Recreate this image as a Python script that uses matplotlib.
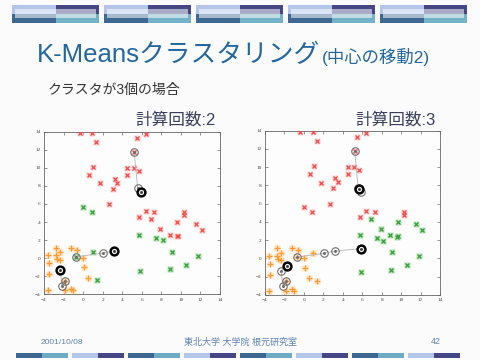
import matplotlib
matplotlib.use("Agg")
import matplotlib.pyplot as plt
from matplotlib.patches import Rectangle

# ---------------- data ----------------
pts_x = [-0.35, 0.9, 1.35, 5.5, 6.4, 5.22, 1.05, 0.58, 1.72, 4.5, 5.17, 4.5, 5.68,
         3.23, 3.46, 3.03, 2.68, -0.04, 0.88, 5.72, 6.42, 7.27, 6.95, 7.9, 8.85,
         9.6, 9.68, 9.65, 10.27, 10.27, 11.55, 12.13,
         5.75, 7.5, 8.13, 9.08, 11.8, 10.57, 8.93, 5.84, 0.97, 1.37, -0.7,
         -3.57, -3.52, -3.5, -3.6, -2.8, -2.8, -2.39, -2.63, -2.35, -1.19, -0.62,
         0.0, 0.13, 0.53, -1.24, -1.06, -1.88, -1.82]
pts_y = [13.88, 13.9, 12.9, 13.27, 13.7, 11.8, 10.1, 9.25, 8.3, 10.03, 10.03, 9.25, 9.65,
         8.8, 8.33, 7.68, 6.0, 5.64, 5.13, 4.55, 5.24, 5.07, 4.32, 3.24, 2.52,
         2.4, 2.5, 3.95, 5.08, 4.76, 3.77, 3.13,
         2.56, 2.21, 1.97, 0.67, 0.28, -0.73, -1.23, -1.43, 0.64, -2.47, 0.15,
         0.3, -0.55, -1.78, -3.55, 1.15, 0.3, 0.64, -0.05, -0.16, 1.1, 0.88,
         0.02, -1.0, -2.18, -3.38, -3.52, -3.52, -2.52]
# cluster labels: 0 = red x, 1 = green, 2 = orange +
labels_iter2 = [0]*17 + [1, 1] + [0]*13 + [1]*11 + [2]*18
labels_iter3 = [0]*22 + [1]*6 + [0, 0] + [1, 1] + [1]*8 + [2]*3 + [2]*18

c1_x = [5.22, 5.58, 5.9, 5.66]
c1_y = [11.8, 7.73, 7.3, 7.63]
c2_x = [-0.7, 2.05, 3.15, 5.86]
c2_y = [0.15, 0.56, 0.8, 1.09]
c3_x = [-1.82, -2.15, -2.35, -1.78]
c3_y = [-2.52, -3.05, -1.35, -0.8]

ticks = [-4, -2, 0, 2, 4, 6, 8, 10, 12, 14]
iterations = [2, 3]

# ---------------- figure ----------------
W, H = 480, 360
fig = plt.figure(figsize=(4.8, 3.6), dpi=100, facecolor="#fbfbfb")

bg = fig.add_axes([0, 0, 1, 1], zorder=-5)
bg.set_xlim(0, W)
bg.set_ylim(H, 0)
bg.axis("off")

# top decorative blocks
for x0 in [12, 104, 196, 288, 380]:
    w = 87
    bg.add_patch(Rectangle((x0, 5), w / 2, 9, color="#b3c6ea", lw=0))
    bg.add_patch(Rectangle((x0 + w / 2, 5), w / 2, 9, color="#454785", lw=0))
    bg.add_patch(Rectangle((x0, 14), w / 2, 9, color="#3e6891", lw=0))
    bg.add_patch(Rectangle((x0 + w / 2, 14), w / 2, 9, color="#74b2c7", lw=0))
    bg.add_patch(Rectangle((x0 + 3, 8.5), w - 6, 9, color="white", alpha=0.55, lw=0))

# bottom decorative bar
for i, x0 in enumerate([16, 72, 128, 184, 240, 296, 352, 408]):
    if i % 2 == 0:
        ca, cb = "#3e6891", "#6eaac2"
    else:
        ca, cb = "#b3c6ea", "#454785"
    bg.add_patch(Rectangle((x0, 353), 26, 5, color=ca, lw=0))
    bg.add_patch(Rectangle((x0 + 26, 353), 26, 5, color=cb, lw=0))

jp = ["Liberation Sans", "Noto Sans CJK JP"]
fig.text(37 / W, 1 - 62.5 / H, "K-Meansクラスタリング", family=jp, fontsize=18.5,
         color="#23679e", va="baseline", ha="left")
fig.text(322 / W, 1 - 62.5 / H, "(中心の移動2)", family=jp, fontsize=12.5,
         color="#23679e", va="baseline", ha="left")
fig.text(48 / W, 1 - 90 / H, "クラスタが3個の場合", family=jp, fontsize=10,
         color="#333333", va="center", ha="left")

fig.text(41 / W, 1 - 342 / H, "2001/10/08", family=jp, fontsize=6,
         color="#5f84b0", va="center", ha="left")
fig.text(241 / W, 1 - 342 / H, "東北大学 大学院 根元研究室", family=jp, fontsize=6.5,
         color="#5f84b0", va="center", ha="center")
fig.text(436 / W, 1 - 342 / H, "42", family=jp, fontsize=6.5,
         color="#5f84b0", va="center", ha="center")

axes_rects = [[44 / W, 1 - 294.3 / H, 176 / W, 162.6 / H],
              [265 / W, 1 - 295 / H, 175 / W, 164.3 / H]]
title_right = [216, 436]

styles = {
    0: dict(marker="x", color="#f24a4a", halo="#ffd4d4", ms=3.4),
    1: dict(marker="x", color="#3a9e3a", halo="#b9e3b9", ms=2.6),
    2: dict(marker="+", color="#ff9a30", halo="#ffe2c0", ms=4.2),
}

for k, it in enumerate(iterations):
    ax = fig.add_axes(axes_rects[k], facecolor="#fdfdfd")
    labs = labels_iter2 if it == 2 else labels_iter3
    for c in [0, 1, 2]:
        xs = [x for x, l in zip(pts_x, labs) if l == c]
        ys = [y for y, l in zip(pts_y, labs) if l == c]
        st = styles[c]
        ax.plot(xs, ys, ls="none", marker="s", ms=4.2, mfc=st["halo"], mec="none",
                zorder=2)
        ax.plot(xs, ys, ls="none", marker=st["marker"], ms=st["ms"], mew=0.9,
                color=st["color"], zorder=3)
    n = it + 1
    for cx, cy in [(c1_x, c1_y), (c2_x, c2_y), (c3_x, c3_y)]:
        ax.plot(cx[:n], cy[:n], color="#b5b5b5", lw=0.6, zorder=4)
        ax.plot(cx[:n - 1], cy[:n - 1], ls="none", marker="o", ms=5.4, mfc="none",
                mec="#707070", mew=0.8, zorder=5)
        ax.plot(cx[:n - 1], cy[:n - 1], ls="none", marker="o", ms=1.2,
                color="#707070", zorder=5)
        ax.plot(cx[n - 1], cy[n - 1], ls="none", marker="o", ms=5.6, mfc="white",
                mec="black", mew=1.8, zorder=6)
        ax.plot(cx[n - 1], cy[n - 1], ls="none", marker="o", ms=1.2,
                color="#444444", zorder=6)
    ax.set_xlim(-4, 14)
    ax.set_ylim(-4, 14)
    ax.set_xticks(ticks)
    ax.set_yticks(ticks)
    ax.tick_params(direction="in", length=2, width=0.4, top=True, right=True,
                   labelsize=3.8, colors="#444444", pad=2.5)
    for lab in ax.get_xticklabels() + ax.get_yticklabels():
        lab.set_family("Liberation Serif")
    for sp in ax.spines.values():
        sp.set_color("#666666")
        sp.set_linewidth(0.6)
    fig.text(title_right[k] / W, 1 - 120 / H, f"計算回数:{it}", family=jp,
             fontsize=12, color="#3b3f5c", ha="right", va="center")

fig.savefig("out.png", dpi=100, facecolor=fig.get_facecolor())
